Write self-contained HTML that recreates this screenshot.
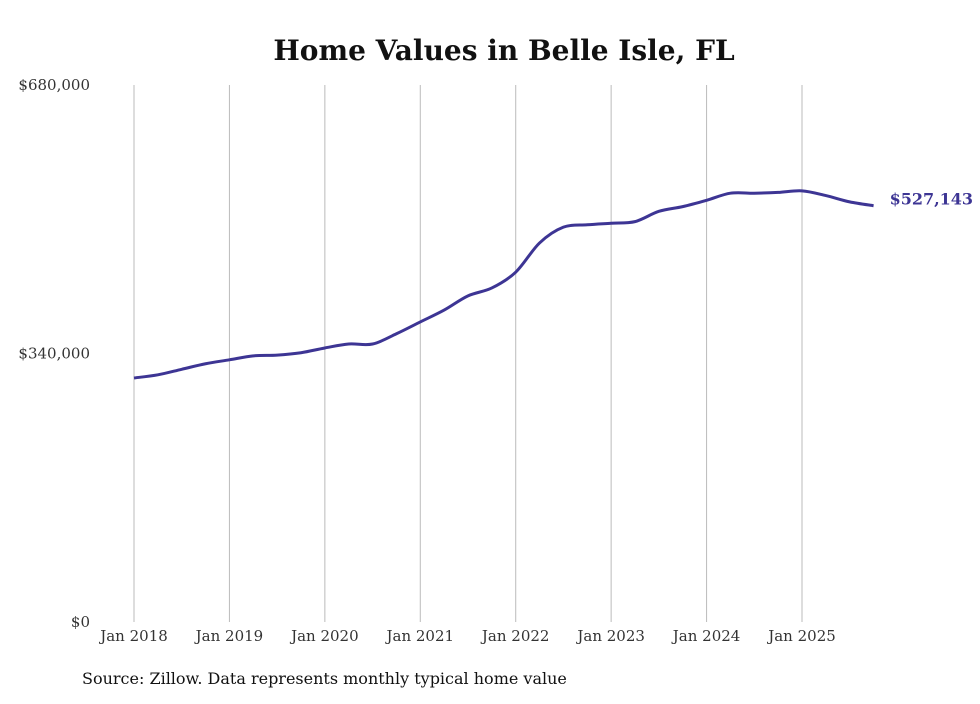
<!DOCTYPE html>
<html><head><meta charset="utf-8"><style>
body{margin:0;background:#fff;}
svg text{font-family:"DejaVu Serif","Liberation Serif",serif;}
</style></head><body>
<svg id="chart" width="980" height="699" viewBox="0 0 980 699" xmlns="http://www.w3.org/2000/svg">
<text x="504" y="60" text-anchor="middle" font-size="28" font-weight="bold" fill="#111">Home Values in Belle Isle, FL</text>
<g id="grid"></g><g id="yticks"></g><g id="xticks"></g>
<path id="line" fill="none" stroke="#3d3594" stroke-width="3"/>
<text id="endlabel" font-size="16" font-weight="bold" fill="#3d3594"></text>
<text x="82" y="684" font-size="16" fill="#111">Source: Zillow. Data represents monthly typical home value</text>
</svg>
<script>
const xLabels=["Jan 2018","Jan 2019","Jan 2020","Jan 2021","Jan 2022","Jan 2023","Jan 2024","Jan 2025"];
const yTicks=[0,340000,680000];
const yTickLabels=["$0","$340,000","$680,000"];
const months=[0,3,6,9,12,15,18,21,24,27,30,33,36,39,42,45,48,51,54,57,60,63,66,69,72,75,78,81,84,87,90,93];
const values=[309000,313000,320000,327000,332000,337000,338000,341000,347000,352000,352000,365000,380000,395000,413000,423000,443000,480000,500000,503000,505000,507000,520000,526000,534000,543000,543000,544000,546000,540000,532000,527143];
const NS="http://www.w3.org/2000/svg";
const x=m=>134+m*(802-134)/84;
const y=v=>622-v*(622-85)/680000;
const svg=document.getElementById('chart');
const grid=document.getElementById('grid'),yt=document.getElementById('yticks'),xt=document.getElementById('xticks');
function mk(tag,attrs,parent){const e=document.createElementNS(NS,tag);for(const k in attrs)e.setAttribute(k,attrs[k]);parent.appendChild(e);return e;}
xLabels.forEach((l,i)=>{
 const gx=x(i*12);
 const ln=mk('line',{x1:gx,x2:gx,y1:85,y2:622,stroke:'#bbb','stroke-width':1},grid);
 
 
 const t=mk('text',{x:gx,y:641,'text-anchor':'middle','font-size':15,fill:'#333'},xt);
 t.textContent=l;
 
 
});
yTicks.forEach((v,i)=>{
 const t=mk('text',{x:90,y:y(v)+5,'text-anchor':'end','font-size':15,fill:'#333'},yt);
 t.textContent=yTickLabels[i];
 
 
});
const pts=months.map((m,i)=>[x(m),y(values[i])]);
let d='M'+pts[0][0]+','+pts[0][1];
for(let i=0;i<pts.length-1;i++){
 const p0=pts[Math.max(0,i-1)],p1=pts[i],p2=pts[i+1],p3=pts[Math.min(pts.length-1,i+2)];
 const c1=[p1[0]+(p2[0]-p0[0])/6,p1[1]+(p2[1]-p0[1])/6];
 const c2=[p2[0]-(p3[0]-p1[0])/6,p2[1]-(p3[1]-p1[1])/6];
 d+=' C'+c1+' '+c2+' '+p2;
}
document.getElementById('line').setAttribute('d',d);
const last=pts[pts.length-1];
const el=document.getElementById('endlabel');
el.setAttribute('x',last[0]+16);el.setAttribute('y',last[1]-1);
el.textContent='$'+values[values.length-1].toLocaleString('en-US');
</script>
</body></html>
